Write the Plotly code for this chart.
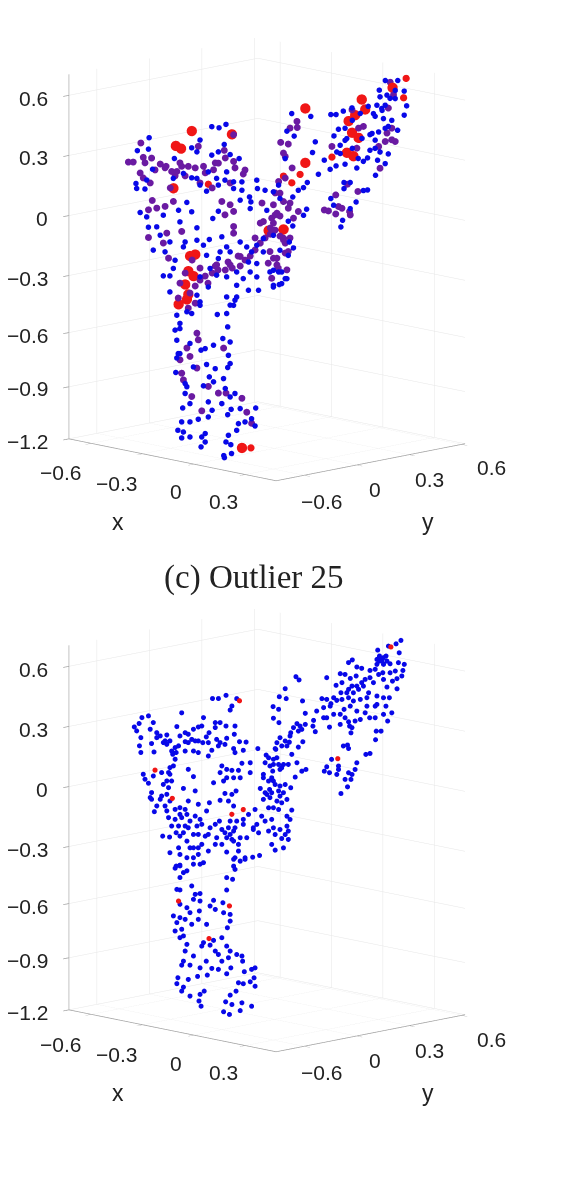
import plotly.graph_objects as go

# Upper cloud. The *_xy lists hold the shared x and y of each point (the cloud is stored on the x = y plane),
# except the *_hand and *_foot lists, which carry their own x and y.
upper_blue_xy = [
    -.362,-.181,-.160,-.140,-.215,-.239,-.224,-.396,-.364,-.145,-.162,-.181,-.289,-.102,-.128,
    -.352,-.292,-.263,-.239,-.215,-.191,-.167,-.138,-.118,-.094,-.400,-.369,-.398,-.374,-.224,-.196,-.162,-.143,-.118,-.094,-.051,-.049,
    -.388,-.369,-.253,-.277,-.239,-.178,-.162,-.099,-.072,-.068,-.070,-.022,-.027,-.003,.012,.016,
    -.364,-.340,-.321,-.273,-.224,-.330,-.350,-.224,-.188,-.205,-.152,-.138,-.099,-.080,-.157,-.302,-.258,-.051,-.066,-.032,-.003,
    -.263,-.287,-.316,-.196,-.162,-.128,-.075,-.051,-.032,.012,-.013,-.003,.021,.036,-.321,-.302,-.292,-.215,-.186,-.167,-.138,-.109,-.090,-.070,-.051,-.191,-.302,-.138,-.109,-.109,-.075,-.046,-.215,-.224,-.118,
    .375,.303,.305,.325,.349,.382,.375,.356,.296,.224,.199,.163,.178,.105,.185,.172,.118,.110,.144,.127,.161,.178,.204,.238,.269,.298,.320,.292,.329,.276,.301,.339,.315,.286,.310,.209,.190,.180,.257,.276,.305,.291,.320,
    .036,.057,.050,.031,
    .201,.219,.201,.269,.257,.163,.236,.219,.192,.197,.171,
    .095,.084,.069,.053,.093,-.003,.084,.040,.053,.043,.055,.040,-.003,.021,.031,.014,-.003,.016,
    -.215,-.253,-.239,-.282,-.273,-.287,-.282,-.273,-.212,-.282,-.196,-.234,-.285,-.135,-.165,-.128,-.114,-.138,-.176,-.149,-.128,-.133,-.128,-.135,-.188,-.147,-.176,-.205,-.253,-.258,-.244,-.265,-.191,-.180,-.220,-.191,-.135,-.125,-.152,-.128,-.114,-.054,-.066,-.104,-.085,-.056,-.109,-.133,-.140,-.126,-.268,-.244,-.279,-.268,-.244,-.200,-.210,-.212,-.200,-.263,
    .204,.225,.248,.271,.291,.311,.334,.349,.320,.282,.253,.225,.204,.190,.242,.291,.329,
    -.273,-.244,-.278,-.200,-.171,-.258,-.142,-.099,-.244,
]
upper_blue_z = [
    .432,.490,.484,.502,.420,.379,.358,.364,.372,.397,.358,.341,.323,.323,.344,
    .267,.219,.245,.222,.184,.253,.219,.253,.201,.201,.192,.210,.166,.163,.219,.152,.184,.210,.166,.157,.210,.166,
    .040,.017,.093,.052,.044,.009,.047,.105,.122,.096,.061,.052,.157,.149,.184,.114,
    -.037,-.035,.026,-.009,-.040,-.079,-.157,-.105,-.101,-.131,-.087,-.140,-.114,-.140,-.166,-.114,-.114,-.131,-.166,-.096,-.079,
    -.140,-.210,-.166,-.184,-.201,-.166,-.219,-.227,-.166,-.271,-.271,-.341,-.332,-.306,-.292,-.292,-.253,-.297,-.253,-.288,-.297,-.271,-.306,-.271,-.297,-.350,-.376,-.402,-.341,-.402,-.367,-.367,-.446,-.393,-.446,
    .677,.682,.647,.656,.638,.600,.551,.472,.603,.589,.572,.554,.554,.544,.477,.442,.411,.355,.315,.241,.267,.285,.294,.274,.327,.315,.297,.236,.348,.449,.463,.524,.533,.559,.586,.428,.393,.358,.309,.367,.358,.420,.603,
    .467,.441,.559,.323,
    .198,.198,.166,.159,.156,.114,.096,.061,-.035,.000,.079,
    .198,.171,.157,.122,.058,.149,.026,-.005,-.030,-.114,-.145,-.184,-.262,-.271,-.306,-.337,-.350,-.157,
    -.428,-.480,-.489,-.498,-.541,-.576,-.629,-.699,-.681,-.722,-.756,-.769,-.798,-.559,-.494,-.445,-.419,-.489,-.655,-.620,-.638,-.708,-.751,-.772,-.821,-.830,-.847,-.868,-.873,-.908,-.961,-.984,-.952,-.996,-1.043,-1.031,-1.019,-.991,-.961,-.926,-.908,-.984,-1.040,-1.066,-1.057,-1.078,-1.101,-1.127,-1.162,-1.176,-1.057,-1.057,-1.101,-1.141,-1.136,-1.118,-1.136,-1.188,-1.162,-1.110,
    .482,.524,.560,.597,.545,.576,.639,.681,.482,.455,.429,.377,.419,.350,.324,.377,.492,
    -.568,-.646,-.699,-.673,-.778,-.856,-.882,-.987,-.961,
]
upper_blue_hand_x = [.098, .134]
upper_blue_hand_y = [.538, .574]
upper_blue_hand_z = [.653, .653]
upper_blue_foot_x = [.007, -.033, -.025]
upper_blue_foot_y = [-.293, -.213, -.265]
upper_blue_foot_z = [-1.19, -1.19, -1.19]

upper_purple_xy = [
    -.386,-.408,-.422,-.379,-.355,-.330,-.313,-.220,-.145,-.118,
    -.297,-.282,-.249,-.268,-.388,-.379,-.205,-.176,-.162,-.118,-.090,
    -.353,-.340,-.316,-.292,-.152,-.128,-.118,-.143,-.364,
    -.268,-.311,-.321,-.364,-.118,-.118,-.008,-.032,.007,
    -.306,-.099,-.167,-.128,-.013,.007,.026,
    .344,.329,.257,.243,.224,.166,.325,.339,.339,.349,.301,.238,.320,.305,
    .065,.045,.066,.018,.040,.026,.031,
    .211,.241,.177,.185,.144,.156,.177,.217,.219,.195,
    .012,.016,-.003,.040,.069,.055,.026,.002,-.003,.026,.040,-.003,.007,.036,-.008,
    -.224,-.220,-.147,-.253,-.244,-.268,-.263,-.239,-.210,-.191,-.162,-.140,-.094,-.080,-.066,-.224,-.273,
    -.244,-.229,-.215,-.200,-.180,-.163,-.142,-.122,-.099,-.085,-.070,-.056,-.041,-.027,-.012,.002,.016,.031,-.171,-.134,-.105,-.192,-.215,-.238,-.258,-.273,-.278,-.249,-.229,
    -.374,-.345,-.316,-.287,-.258,-.229,-.200,-.171,-.142,-.114,-.359,-.215,-.180,-.128,-.085,-.301,-.273,
    -.041,-.012,.016,.045,-.056,.031,.011,-.018,.045,-.036,.002,.031,.051,
]
upper_purple_z = [
    .402,.302,.302,.327,.323,.292,.280,.385,.364,.446,
    .253,.253,.280,.280,.245,.219,.280,.262,.297,.306,.240,
    .101,.061,.070,.096,.096,.079,.044,.026,.052,
    -.061,-.070,-.122,-.093,-.035,-.070,.009,-.009,.035,
    -.201,-.192,-.236,-.236,-.166,-.201,-.105,
    .656,.586,.490,.481,.577,.385,.455,.481,.420,.411,.385,.376,.411,.271,
    .516,.481,.484,.406,.397,.350,.332,
    .187,.149,.131,.070,.052,.047,.031,.044,.026,.061,
    .201,.140,.079,.061,.044,.009,.096,.026,-.017,-.096,-.166,-.201,-.236,-.262,-.306,
    -.594,-.629,-.672,-.672,-.716,-.804,-.839,-.926,-1.001,-.873,-.908,-.908,-.935,-1.008,-1.066,-.777,-.734,
    -.384,-.347,-.316,-.295,-.279,-.263,-.263,-.253,-.242,-.211,-.190,-.158,-.122,-.095,-.075,-.054,-.085,-.122,-.242,-.221,-.190,-.332,-.253,-.211,-.279,-.332,-.410,-.463,-.437,
    .298,.261,.272,.230,.230,.272,.246,.298,.324,.272,.193,.193,.167,.193,.261,.167,.298,
    -.017,-.043,.020,.088,-.095,-.174,-.253,-.227,-.095,.088,.141,.219,.272,
]
upper_purple_hand_x = [.112]
upper_purple_hand_y = [.552]
upper_purple_hand_z = [.642]

upper_red_large_xy = [-.239,-.123,-.285,-.270,-.292,-.229,-.244,-.017,.026,.089,.089,.252,.262,.233,.214,.224,.243,.209,.228,.341,-.249,-.234,-.258,-.249,-.277,-.253,-.094]
upper_red_large_z = [.463,.446,.385,.371,.163,-.184,-.192,-.058,-.052,.582,.297,.629,.577,.547,.516,.455,.428,.350,.332,.691,-.271,-.297,-.341,-.393,-.445,-.419,-1.197]
upper_red_small_xy = [.074,.050,.026,.373,.166,.031,-.003,-.191,-.068]
upper_red_small_z = [.236,.192,.227,.638,.327,-.052,-.061,.184,-1.197]
upper_red_hand_x = [.158]
upper_red_hand_y = [.598]
upper_red_hand_z = [.660]

# Lower cloud, stored the same way.
lower_blue_xy = [
    .296,.310,.315,.296,.334,.358,.375,.313,.334,.349,.371,.341,.368,.354,.225,.214,.238,.252,.276,.301,.276,.315,.190,.204,.219,.236,.195,.178,.151,.062,.071,.031,.034,.014,.081,.137,.163,.180,.195,.214,.228,.243,.257,.272,.296,.286,.325,.354,.332,.322,.339,.327,.291,.267,.262,.291,.315,.238,.219,.201,.190,.171,.161,.142,.122,.142,.113,.089,.089,.065,.055,.069,.111,.118,.151,.159,.190,.214,.224,.248,.275,.294,.308,.292,
    -.004,.012,-.003,.013,.047,.016,.007,.043,.082,.069,.050,.004,-.024,-.003,.026,.065,.079,.091,.060,-.008,.016,
    .211,.199,.214,.165,.151,.144,.159,.185,.180,.185,.204,.221,.214,.238,.233,.224,.192,.211,.264,.276,
    -.364,-.383,-.268,-.391,-.405,-.398,-.359,-.350,-.386,-.390,-.386,-.355,-.348,-.340,-.311,-.321,-.302,-.282,-.273,-.258,-.234,-.220,-.205,-.210,-.171,-.157,-.140,-.114,-.189,-.171,-.197,-.207,-.167,-.138,-.116,-.101,-.082,-.143,-.162,-.181,-.191,-.118,-.114,-.090,-.220,-.234,-.258,-.277,-.249,-.229,-.294,-.284,-.287,
    -.179,-.162,-.140,-.123,-.128,-.109,
    -.048,.045,.021,.002,-.017,-.027,-.003,.021,.040,-.005,-.032,-.003,.002,-.014,-.027,-.041,-.032,-.013,.007,.031,.047,.012,.026,.036,-.003,-.017,.012,.021,.050,.036,.045,-.027,-.008,-.037,-.051,-.061,.040,.031,-.003,.002,.021,.040,-.008,.026,.002,
    -.094,-.070,-.070,-.152,-.138,-.123,-.104,-.157,-.099,-.176,-.147,-.138,-.118,-.143,-.123,-.111,-.133,-.157,-.118,-.056,-.075,-.090,-.090,-.109,-.061,-.046,-.080,-.099,-.118,-.133,-.152,-.138,-.171,-.152,-.123,-.104,
    -.379,-.374,-.364,-.306,-.249,-.234,-.302,-.292,-.326,-.321,-.306,-.263,-.229,-.355,-.359,-.326,-.311,-.249,-.273,-.340,-.347,-.316,-.311,-.306,-.287,-.297,-.273,-.253,-.229,-.215,-.196,-.188,-.220,-.244,-.249,-.224,-.210,-.171,-.159,-.191,-.200,-.323,-.303,-.284,-.273,-.253,-.234,-.244,-.210,-.191,-.302,-.277,-.273,-.253,-.234,-.220,-.273,-.284,
    -.138,-.104,-.114,-.085,-.063,-.043,-.099,-.118,
    -.287,-.273,-.263,-.273,-.282,-.273,-.239,
    -.273,-.292,-.273,-.253,-.244,-.258,-.282,-.239,-.220,-.287,-.268,-.263,-.273,-.253,-.258,-.263,-.234,-.244,-.268,-.229,-.215,-.234,-.215,-.217,
    -.176,-.186,-.171,-.149,-.147,-.128,-.128,-.136,-.196,-.152,-.176,-.205,-.186,-.210,-.171,-.162,-.138,-.128,-.133,-.152,-.109,-.094,-.092,-.197,-.215,-.181,-.162,-.138,-.126,-.087,-.056,-.066,-.059,-.070,-.104,-.090,-.056,-.111,-.128,-.141,-.123,-.094,-.066,-.099,-.147,-.130,-.222,-.194,-.279,-.249,-.282,-.263,-.268,-.244,-.203,-.215,-.218,-.212,
    -.138,-.121,-.138,-.114,-.099,-.234,-.215,-.205,-.253,-.118,-.085,
    .305,.315,.303,.325,.291,.262,.252,.238,.224,.214,.228,.248,.209,.192,.171,.151,.315,.296,.267,.204,.233,.221,.217,.074,.079,
    .036,.031,.007,.012,-.013,-.032,-.017,.016,-.008,.016,-.022,.036,.016,-.017,
    -.311,-.287,-.297,-.340,-.330,-.316,-.258,-.249,-.239,-.220,-.191,-.157,-.350,-.302,-.297,-.311,-.355,-.330,-.268,-.258,-.263,-.277,-.220,-.128,-.114,-.143,-.118,-.128,-.186,-.167,-.234,-.220,-.302,-.287,-.258,
]
lower_blue_z = [
    .687,.678,.661,.661,.664,.670,.661,.617,.617,.626,.629,.573,.600,.586,.684,.670,.647,.640,.629,.608,.591,.582,.612,.608,.587,.600,.565,.551,.591,.596,.579,.533,.481,.491,.469,.481,.455,.472,.477,.486,.512,.530,.547,.512,.495,.565,.542,.533,.486,.442,.407,.364,.442,.442,.407,.381,.399,.416,.442,.425,.399,.399,.442,.434,.416,.381,.367,.404,.346,.350,.329,.311,.337,.308,.381,.332,.346,.360,.329,.372,.381,.311,.311,.266,
    .439,.425,.378,.355,.302,.276,.250,.253,.255,.227,.189,.215,.185,.163,.136,.145,.101,.110,.070,.066,.110,
    .238,.233,.220,.163,.124,.101,.093,.128,.084,.110,.058,.058,.093,.145,.110,.084,-.016,.019,.189,.194,
    .390,.381,.406,.350,.332,.311,.320,.355,.276,.233,.198,.245,.201,.276,.290,.250,.259,.334,.285,.302,.320,.332,.381,.337,.355,.355,.337,.337,.302,.329,.280,.250,.267,.273,.294,.255,.253,.241,.233,.210,.180,.219,.198,.210,.198,.206,.206,.233,.250,.259,.189,.198,.163,
    .481,.481,.498,.442,.421,.481,
    .219,.285,.233,.219,.171,.145,.136,.119,.136,.101,.066,.049,.031,.005,-.012,.010,-.047,-.038,-.056,.031,.014,-.003,-.012,-.047,-.091,-.091,-.100,-.065,-.103,-.135,-.152,-.161,-.152,-.135,-.178,-.205,-.213,-.231,-.196,-.231,-.252,-.257,-.283,-.301,-.313,
    .142,.145,.093,.128,.110,.105,.105,.093,.066,.040,.049,.066,.066,-.016,-.021,-.003,-.056,-.052,-.082,-.100,-.126,-.152,-.178,-.161,-.196,-.222,-.248,-.248,-.213,-.196,-.205,-.248,-.283,-.283,-.257,-.283,
    .084,.058,.037,.093,.110,.072,.119,.128,.093,.031,.014,.010,-.003,-.012,-.038,-.030,-.021,-.056,-.091,-.082,-.112,-.082,-.108,-.143,-.152,-.187,-.126,-.126,-.135,-.152,-.108,-.065,-.073,-.161,-.196,-.187,-.178,-.178,-.161,-.231,-.240,-.240,-.245,-.222,-.240,-.266,-.231,-.301,-.283,-.318,-.327,-.301,-.336,-.353,-.353,-.336,-.392,-.397,
    -.323,-.318,-.353,-.353,-.350,-.341,-.371,-.397,
    -.408,-.396,-.431,-.457,-.519,-.522,-.501,
    -.597,-.658,-.667,-.615,-.641,-.676,-.693,-.702,-.676,-.737,-.728,-.763,-.772,-.807,-.842,-.895,-.868,-.916,-.916,-.545,-.541,-.571,-.580,-.632,
    -.576,-.606,-.624,-.589,-.641,-.650,-.685,-.720,-.702,-.772,-.786,-.798,-.811,-.816,-.842,-.860,-.816,-.842,-.877,-.895,-.860,-.868,-.895,-.895,-.930,-.933,-.938,-.961,-.930,-.950,-.930,-.938,-.982,-1.003,-1.008,-1.013,-1.026,-1.052,-1.073,-1.108,-1.122,-1.113,-1.131,-1.154,-1.160,-1.174,-.975,-.968,-.982,-.991,-1.013,-1.031,-1.052,-1.078,-1.052,-1.069,-1.104,-1.131,
    -.457,-.466,-.522,-.414,-.370,-.387,-.387,-.379,-.422,-.361,-.361,
    .687,.696,.678,.678,.635,.582,.565,.547,.547,.530,.469,.477,.512,.512,.486,.477,.486,.451,.486,.381,.364,.302,.337,.337,.320,
    .233,.259,.171,.136,.128,.084,.049,.023,-.012,-.030,-.021,-.187,-.205,-.213,
    .241,.224,.206,.302,.285,.259,.255,.294,.267,.259,.250,.250,.075,.084,.049,.049,-.047,-.047,-.143,-.187,-.222,-.187,-.231,-.231,-.196,-.222,-.266,-.161,-.196,-.248,-.301,-.301,-.056,-.100,-.100,
]
lower_blue_hand_x = [.143, .129, .107, .076, .138, .081, .100]
lower_blue_hand_y = [.583, .569, .547, .516, .578, .521, .540]
lower_blue_hand_z = [.707, .689, .677, .656, .642, .625, .625]

lower_red_xy = [-.101, -.345, -.295, .183, -.123, -.090, -.277, -.130, -.189]
lower_red_z = [.474, .110, -.038, .171, -.121, -.096, -.576, -.601, -.772]
lower_red_hand_x = [.114]
lower_red_hand_y = [.554]
lower_red_hand_z = [.677]

x_tick_values = [-0.6, -0.3, 0, 0.3]
y_tick_values = [-0.3, 0, 0.3, 0.6]
z_tick_values = [-1.2, -0.927, -0.643, -0.344, -0.03, 0.285, 0.6]
x_tick_text = ["−0.6", "−0.3", "0", "0.3"]
y_tick_text = ["−0.6", "0", "0.3", "0.6"]
z_tick_text = ["−1.2", "−0.9", "−0.6", "−0.3", "0", "0.3", "0.6"]

BLUE, PURPLE, RED = "#0808e8", "#6a1aa2", "#f01616"
fig = go.Figure()


def add_cloud(scene, x, y, z, color, size, lift=0.0):
    # lift moves a layer very slightly towards the camera so it is drawn over the layers behind it
    fig.add_trace(go.Scatter3d(x=[v + lift for v in x], y=[v - lift for v in y], z=z, mode="markers", scene=scene,
                               showlegend=False, marker=dict(size=size, color=color, line=dict(width=0), opacity=1)))


add_cloud("scene", upper_red_large_xy, upper_red_large_xy, upper_red_large_z, RED, 6.0)
add_cloud("scene", upper_red_small_xy, upper_red_small_xy, upper_red_small_z, RED, 4.2)
add_cloud("scene", upper_red_hand_x, upper_red_hand_y, upper_red_hand_z, RED, 4.2)
add_cloud("scene", upper_purple_xy, upper_purple_xy, upper_purple_z, PURPLE, 4.0, lift=0.006)
add_cloud("scene", upper_purple_hand_x, upper_purple_hand_y, upper_purple_hand_z, PURPLE, 4.0, lift=0.006)
add_cloud("scene", upper_blue_xy, upper_blue_xy, upper_blue_z, BLUE, 3.2, lift=0.012)
add_cloud("scene", upper_blue_hand_x, upper_blue_hand_y, upper_blue_hand_z, BLUE, 3.2, lift=0.012)
add_cloud("scene", upper_blue_foot_x, upper_blue_foot_y, upper_blue_foot_z, BLUE, 3.2, lift=0.012)
add_cloud("scene2", lower_blue_xy, lower_blue_xy, lower_blue_z, BLUE, 2.9)
add_cloud("scene2", lower_blue_hand_x, lower_blue_hand_y, lower_blue_hand_z, BLUE, 2.9)
add_cloud("scene2", lower_red_xy, lower_red_xy, lower_red_z, RED, 3.0, lift=0.012)
add_cloud("scene2", lower_red_hand_x, lower_red_hand_y, lower_red_hand_z, RED, 3.0, lift=0.012)


def axis(values, rng):
    return dict(title=dict(text=""), range=rng, autorange=False, tickvals=values, showticklabels=False,
                showgrid=True, gridcolor="#e6e6e6", gridwidth=1, showline=True, linecolor="#a0a0a0", linewidth=1.5,
                ticks="outside", ticklen=8, tickwidth=1.5, tickcolor="#a0a0a0", zeroline=False, showbackground=False,
                showspikes=False)


def scene_layout(top_px, bottom_px):
    return dict(domain=dict(x=[0, 534 / 580], y=[1 - bottom_px / 1190, 1 - top_px / 1190]),
                xaxis=axis(x_tick_values, [-0.73, 0.48]),
                yaxis=axis(y_tick_values, [-0.46, 0.62]),
                zaxis=axis(z_tick_values, [-1.2, 0.71]),
                aspectmode="manual", aspectratio=dict(x=1.23, y=1.105, z=1.55),
                camera=dict(eye=dict(x=1.355, y=-1.335, z=0.387), center=dict(x=0, y=0, z=0),
                            projection=dict(type="orthographic")))


annotations = []


def label(text, u, v, size=21, anchor="center", family="Liberation Sans"):
    annotations.append(dict(text=text, x=u / 580, y=1 - v / 1190, xref="paper", yref="paper", showarrow=False,
                            xanchor=anchor, yanchor="middle", font=dict(family=family, size=size, color="#222222")))


for shift in (0, 571):
    for text, u, v in zip(x_tick_text, (60, 116, 176, 223), (473, 483, 492, 501)):
        label(text, u, v + shift)
    for text, u, v in zip(y_tick_text, (321, 375, 429, 491), (501, 489, 479, 468)):
        label(text, u, v + shift)
    for text, v in zip(z_tick_text, (441, 389, 335, 278, 218, 158, 98)):
        label(text, 50, v + shift, anchor="right")
    label("x", 118, 522 + shift, size=23)
    label("y", 428, 522 + shift, size=23)
label("(c) Outlier 25", 254, 577, size=33, family="Liberation Serif")

fig.update_layout(width=580, height=1190, margin=dict(l=0, r=0, t=0, b=0), paper_bgcolor="white",
                  scene=scene_layout(19, 499), scene2=scene_layout(590, 1070), annotations=annotations)
fig.write_html("out.html")
